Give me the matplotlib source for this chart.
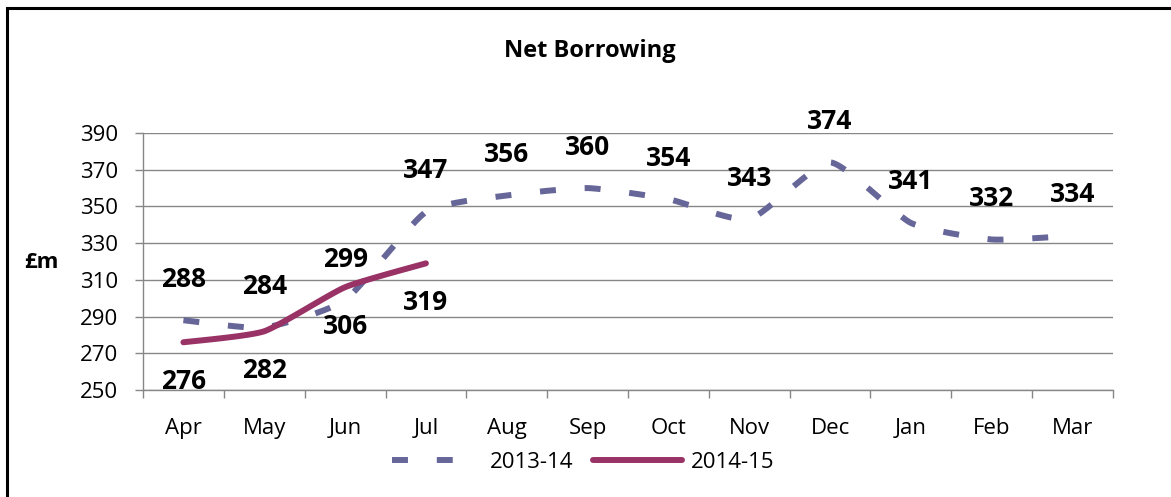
import numpy as np
import matplotlib
matplotlib.use("Agg")
import matplotlib.pyplot as plt
from matplotlib.lines import Line2D
from matplotlib.patches import Rectangle

months = ["Apr", "May", "Jun", "Jul", "Aug", "Sep", "Oct", "Nov", "Dec", "Jan", "Feb", "Mar"]
series_2013 = [288, 284, 299, 347, 356, 360, 354, 343, 374, 341, 332, 334]
series_2014 = [276, 282, 306, 319]
yticks = [250, 270, 290, 310, 330, 350, 370, 390]

c2013 = "#666699"
c2014 = "#993366"
FONT = ["Open Sans", "DejaVu Sans"]
plt.rcParams["font.family"] = FONT


def smooth(x, y, k=0.09, n=30):
    """Bezier smoothing with tangent control points (similar to Excel smoothed lines)."""
    x = np.asarray(x, float)
    y = np.asarray(y, float)
    if len(x) < 3:
        return x, y
    px = np.concatenate([[x[0]], x, [x[-1]]])
    py = np.concatenate([[y[0]], y, [y[-1]]])
    xs, ys = [], []
    for i in range(1, len(px) - 2):
        p0 = np.array([px[i - 1], py[i - 1]])
        p1 = np.array([px[i], py[i]])
        p2 = np.array([px[i + 1], py[i + 1]])
        p3 = np.array([px[i + 2], py[i + 2]])
        c1 = p1 + (p2 - p0) * k
        c2 = p2 - (p3 - p1) * k
        t = np.linspace(0, 1, n, endpoint=(i == len(px) - 3))
        b = ((1 - t) ** 3)[:, None] * p1 + (3 * (1 - t) ** 2 * t)[:, None] * c1 \
            + (3 * (1 - t) * t ** 2)[:, None] * c2 + (t ** 3)[:, None] * p2
        xs.append(b[:, 0])
        ys.append(b[:, 1])
    return np.concatenate(xs), np.concatenate(ys)


fig = plt.figure(figsize=(11.71, 4.97), dpi=100)
ax = fig.add_axes([143 / 1171, 1 - 390 / 497, (1113 - 143) / 1171, (390 - 133) / 497])

x13 = np.arange(len(series_2013))
x14 = np.arange(len(series_2014))

sx, sy = smooth(x13, series_2013)
ax.plot(sx, sy, color=c2013, lw=4.3, linestyle=(0, (2.67, 4.83)),
        dash_capstyle="butt", zorder=3)
sx, sy = smooth(x14, series_2014)
ax.plot(sx, sy, color=c2014, lw=4.3, solid_capstyle="round", zorder=4)

for xi, v in zip(x13, series_2013):
    ax.annotate(str(v), (xi, v), xytext=(0, 29.5), textcoords="offset points",
                ha="center", va="center", fontsize=19, fontweight="bold",
                color="black", zorder=5, annotation_clip=False)
for xi, v in zip(x14, series_2014):
    ax.annotate(str(v), (xi, v), xytext=(0, -28.5), textcoords="offset points",
                ha="center", va="center", fontsize=19, fontweight="bold",
                color="black", zorder=5, annotation_clip=False)

ax.set_xlim(-0.5, len(months) - 0.5)
ax.set_ylim(250, 390)
ax.set_yticks(yticks)
ax.set_yticklabels([str(t) for t in yticks], fontsize=16)
ax.yaxis.grid(True, color="#878787", lw=1.0)
ax.set_axisbelow(True)

ax.set_xticks(np.arange(len(months)))
ax.set_xticklabels(months, fontsize=16)
ax.set_xticks(np.arange(len(months) + 1) - 0.5, minor=True)
ax.tick_params(axis="x", which="major", length=0, pad=20)
ax.tick_params(axis="x", which="minor", length=6, color="#878787", width=1)
ax.tick_params(axis="y", length=6, color="#878787", width=1, pad=12)

for s in ["top", "right"]:
    ax.spines[s].set_visible(False)
for s in ["left", "bottom"]:
    ax.spines[s].set_color("#878787")
    ax.spines[s].set_linewidth(1)

fig.text(590 / 1171, 1 - 51 / 497, "Net Borrowing", ha="center", va="center",
         fontsize=17, fontweight="bold")
fig.text(41 / 1171, 1 - 262 / 497, "£m", ha="center", va="center",
         fontsize=16, fontweight="bold")

handles = [Line2D([0], [0], color=c2013, lw=4.3, linestyle=(0, (2.67, 4.83)), dash_capstyle="butt"),
           Line2D([0], [0], color=c2014, lw=4.3, solid_capstyle="round")]
fig.legend(handles, ["2013-14", "2014-15"], loc="center", bbox_to_anchor=(583 / 1171, 1 - 462 / 497),
           ncol=2, frameon=False, fontsize=16, handlelength=4.0, handletextpad=0.4,
           columnspacing=0.9)

fig.patches.append(Rectangle((6.5 / 1171, -0.1), 1.2, 1 - 7.5 / 497 + 0.1,
                             transform=fig.transFigure, fill=False,
                             edgecolor="black", lw=2.2, zorder=10))

fig.savefig("out.png", dpi=100)
